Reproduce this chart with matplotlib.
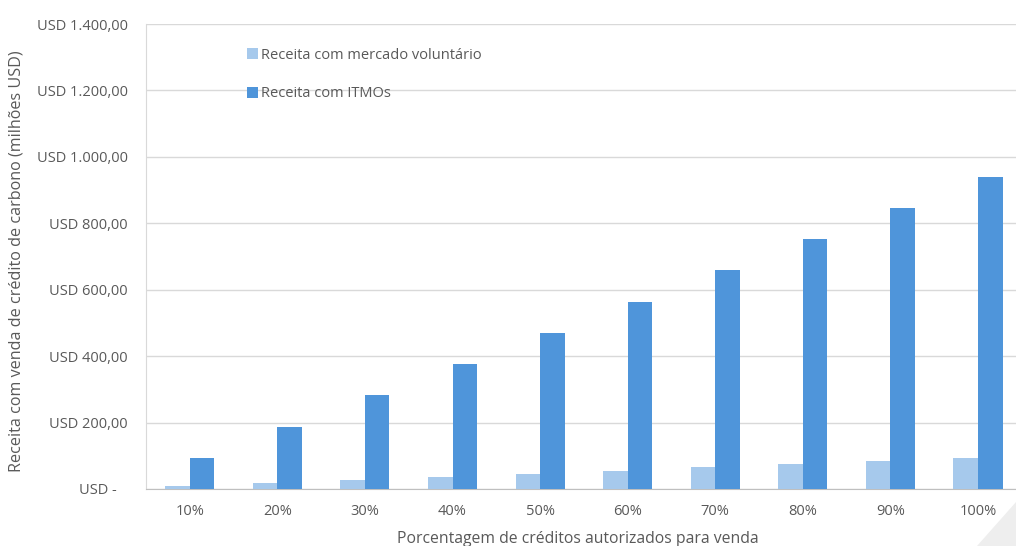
import matplotlib.pyplot as plt
import numpy as np
from matplotlib.patches import Polygon
from matplotlib.ticker import FuncFormatter

plt.rcParams['font.family'] = ['Open Sans', 'DejaVu Sans']

categorias = ['10%', '20%', '30%', '40%', '50%', '60%', '70%', '80%', '90%', '100%']
receita_voluntario = [9, 18, 27, 36, 46, 55, 65, 74, 84, 94]
receita_itmos = [94, 188, 282, 376, 470, 564, 658, 752, 846, 940]

cor_texto = '#595959'
cor_grade = '#d9d9d9'


def formata_usd(v, pos):
    if v == 0:
        return 'USD -   '
    s = f'{v:,.2f}'.replace(',', 'X').replace('.', ',').replace('X', '.')
    return 'USD ' + s


fig = plt.figure(figsize=(10.16, 5.46), dpi=100)
ax = fig.add_axes([0.1437, 0.1044, 0.862, 0.8516])

x = np.arange(len(categorias))
larg = 0.28
ax.bar(x - larg / 2, receita_voluntario, larg, color='#a6c9ec',
       label='Receita com mercado voluntário', zorder=3)
ax.bar(x + larg / 2, receita_itmos, larg, color='#4f95da',
       label='Receita com ITMOs', zorder=3)

ax.set_xlim(-0.5, len(categorias) - 0.5)
ax.set_ylim(0, 1400)
ax.set_yticks(np.arange(0, 1401, 200))
ax.yaxis.set_major_formatter(FuncFormatter(formata_usd))
ax.set_xticks(x)
ax.set_xticklabels(categorias)

ax.grid(axis='y', color=cor_grade, linewidth=1, zorder=0)
for lado in ['top', 'right']:
    ax.spines[lado].set_visible(False)
ax.spines['left'].set_color(cor_grade)
ax.spines['bottom'].set_color('#bfbfbf')
ax.tick_params(axis='both', length=0, colors=cor_texto, labelsize=10.5)
ax.tick_params(axis='x', pad=11)
ax.tick_params(axis='y', pad=13)

ax.set_xlabel('Porcentagem de créditos autorizados para venda', color=cor_texto,
              fontsize=11.3)
ax.xaxis.set_label_coords(0.493, -0.09)
ax.set_ylabel('Receita com venda de crédito de carbono (milhões USD)',
              color=cor_texto, fontsize=11.6)
ax.yaxis.set_label_coords(-0.139, 0.49)

leg = ax.legend(loc='upper left', bbox_to_anchor=(0.1, 0.977), frameon=False,
                fontsize=10.5, handlelength=0.8, handleheight=0.8,
                handletextpad=0.2, labelspacing=1.6)
for t in leg.get_texts():
    t.set_color(cor_texto)

# detalhe cinza no canto inferior direito
fig.patches.append(Polygon([(1.0, 0.081), (1.0, 0.0), (0.962, 0.0)], closed=True,
                           transform=fig.transFigure, facecolor='#eeeeee',
                           edgecolor='none', zorder=0))

fig.savefig('out.png', dpi=100)
